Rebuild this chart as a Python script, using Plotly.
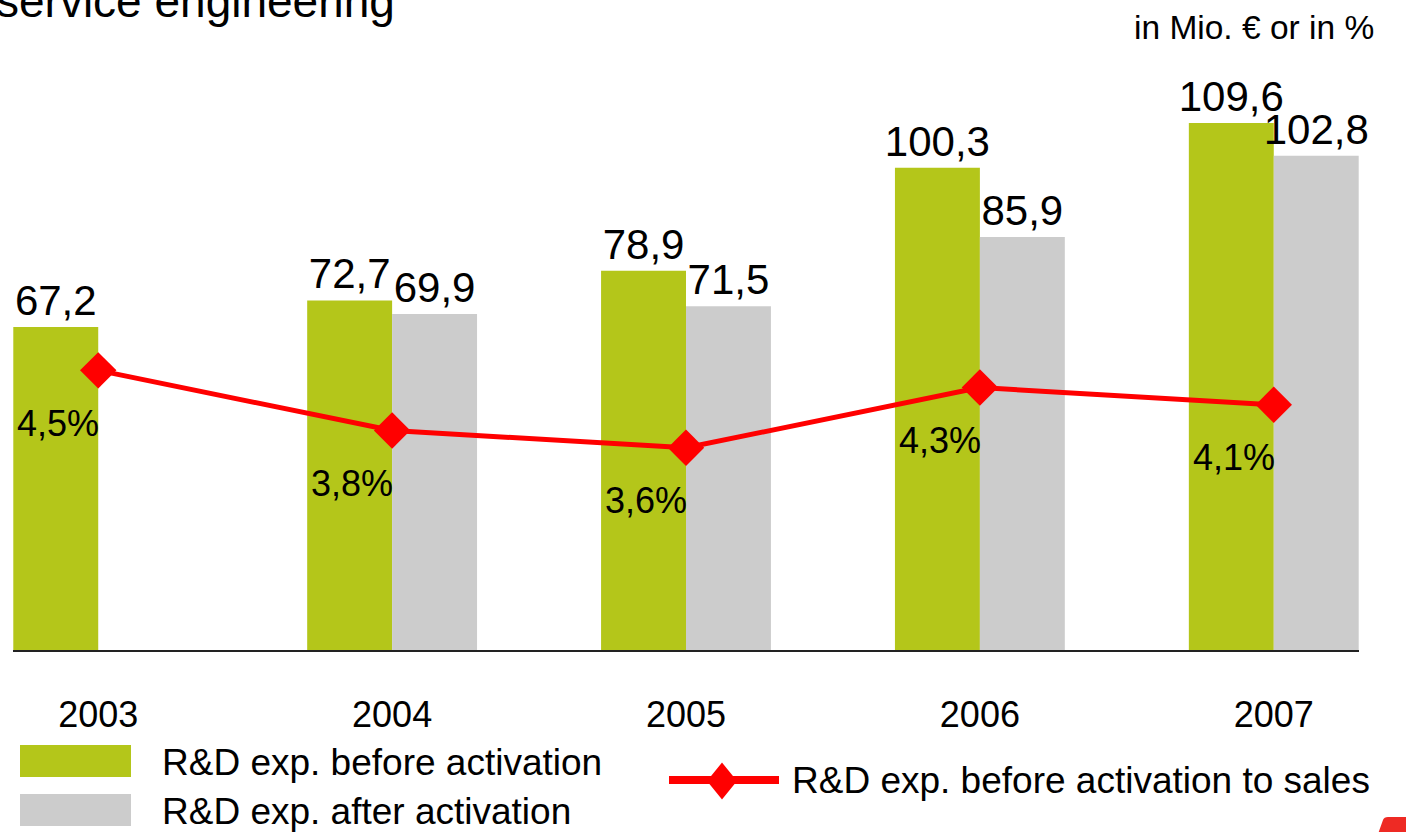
import plotly.graph_objects as go

years = ["2003", "2004", "2005", "2006", "2007"]
before_activation = [67.2, 72.7, 78.9, 100.3, 109.6]
after_activation = [None, 69.9, 71.5, 85.9, 102.8]
ratio_to_sales = [4.5, 3.8, 3.6, 4.3, 4.1]

GREEN = "#b4c61a"
GRAY = "#cccccc"
RED = "#ff0000"
FONT = "Liberation Sans, Arial, sans-serif"

W, H = 1406, 832
L, R, T, B = 13, 47, 60, 182
PW, PH = W - L - R, H - T - B


def px(x):
    return (x - L) / PW


def py(y):
    return (H - B - y) / PH


Y_MAX = PH / 4.808
Y2_MIN = 4.06 - (H - B - 408.2) / 86.0
Y2_MAX = 4.06 + (408.2 - T) / 86.0


def y2_to_y(v):
    return (v - Y2_MIN) / (Y2_MAX - Y2_MIN) * Y_MAX


fig = go.Figure()
fig.add_trace(go.Bar(
    x=years, y=before_activation, name="R&D exp. before activation",
    marker=dict(color=GREEN, line=dict(width=0)),
    texttemplate="%{y:.1f}", textposition="outside", constraintext="none",
    textfont=dict(size=42, color="black", family=FONT), cliponaxis=False,
))
fig.add_trace(go.Bar(
    x=years, y=after_activation, name="R&D exp. after activation",
    marker=dict(color=GRAY, line=dict(width=0)),
    texttemplate="%{y:.1f}", textposition="outside", constraintext="none",
    textfont=dict(size=42, color="black", family=FONT), cliponaxis=False,
))
fig.add_trace(go.Scatter(
    x=years, y=ratio_to_sales, yaxis="y2", mode="lines+markers",
    name="R&D exp. before activation to sales",
    line=dict(color=RED, width=5),
    marker=dict(symbol="diamond", size=28, color=RED),
    cliponaxis=False,
))

annotations = []
for i, v in enumerate(ratio_to_sales):
    annotations.append(dict(
        x=i, y=y2_to_y(v), yref="y", xref="x", text=f"{v:.1f}%".replace(".", ","),
        showarrow=False, xshift=-40, yshift=-53, xanchor="center", yanchor="middle",
        font=dict(size=36, color="black", family=FONT),
    ))

annotations += [
    dict(x=px(397), y=py(1), xref="paper", yref="paper", text="service engineering",
         showarrow=False, xanchor="right", yanchor="middle",
         font=dict(size=46, color="black", family=FONT)),
    dict(x=px(1376), y=py(27), xref="paper", yref="paper", text="in Mio. € or in %",
         showarrow=False, xanchor="right", yanchor="middle",
         font=dict(size=33.5, color="black", family=FONT)),
    dict(x=px(160), y=py(762), xref="paper", yref="paper", text="R&D exp. before activation",
         showarrow=False, xanchor="left", yanchor="middle",
         font=dict(size=37, color="black", family=FONT)),
    dict(x=px(160), y=py(812), xref="paper", yref="paper", text="R&D exp. after activation",
         showarrow=False, xanchor="left", yanchor="middle",
         font=dict(size=37, color="black", family=FONT)),
    dict(x=px(790), y=py(780), xref="paper", yref="paper", text="R&D exp. before activation to sales",
         showarrow=False, xanchor="left", yanchor="middle",
         font=dict(size=37, color="black", family=FONT)),
]

cx, cy = px(722), py(781)
hw, hh = 15 / PW, 18.5 / PH
shapes = [
    dict(type="rect", xref="paper", yref="paper", x0=px(20), x1=px(131), y0=py(777), y1=py(745),
         fillcolor=GREEN, line=dict(width=0)),
    dict(type="rect", xref="paper", yref="paper", x0=px(20), x1=px(131), y0=py(826), y1=py(794),
         fillcolor=GRAY, line=dict(width=0)),
    dict(type="line", xref="paper", yref="paper", x0=px(669), x1=px(779), y0=py(780), y1=py(780),
         line=dict(color=RED, width=8)),
    dict(type="path", xref="paper", yref="paper",
         path=f"M {cx-hw},{cy} L {cx},{cy+hh} L {cx+hw},{cy} L {cx},{cy-hh} Z",
         fillcolor=RED, line=dict(width=0)),
    dict(type="path", xref="paper", yref="paper",
         path=f"M {px(1378)},{py(834)} L {px(1383)},{py(820)} Q {px(1384)},{py(817)} {px(1388)},{py(817)} "
              f"L {px(1408)},{py(817)} L {px(1408)},{py(834)} Z",
         fillcolor="#ee2a24", line=dict(width=0)),
]

fig.update_layout(
    width=W, height=H,
    margin=dict(l=L, r=R, t=T, b=B, pad=0),
    paper_bgcolor="white", plot_bgcolor="white",
    barmode="group", bargap=0.422, bargroupgap=0,
    separators=",.",
    showlegend=False,
    font=dict(family=FONT, color="black"),
    xaxis=dict(type="category", range=[-0.29, 4.29], showline=True, linecolor="#222222",
               linewidth=2, showgrid=False, zeroline=False, ticks="",
               ticklabelstandoff=32,
               tickfont=dict(size=36, color="black", family=FONT)),
    yaxis=dict(range=[0, Y_MAX], visible=False, showgrid=False, zeroline=False),
    yaxis2=dict(range=[Y2_MIN, Y2_MAX],
                overlaying="y", visible=False, showgrid=False, zeroline=False),
    annotations=annotations,
    shapes=shapes,
)

fig.write_html("out.html", config={"displayModeBar": False},
               post_script="document.body.style.margin='0px';document.body.style.overflow='hidden';")
